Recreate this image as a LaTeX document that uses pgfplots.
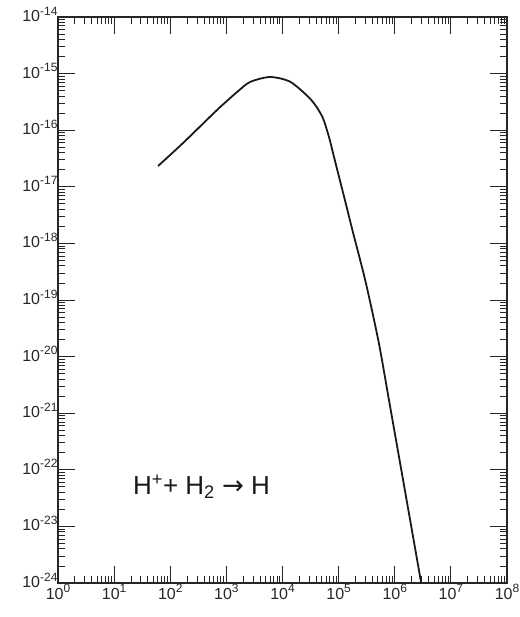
\documentclass[border=0pt]{standalone}
\usepackage{fontspec}
\setmainfont{Liberation Sans}
\newfontfamily\dejavu{DejaVu Sans}
\usepackage{pgfplots}
\pgfplotsset{compat=1.18}
\newcommand{\supexp}[1]{\raisebox{6.5bp}{\fontsize{12bp}{12bp}\selectfont #1}}
\newcommand{\loglabel}{\pgfmathtruncatemacro\myexp{round(\tick/ln(10))}\fontsize{16bp}{16bp}\selectfont 10\supexp{\myexp}}
\begin{document}
\begin{tikzpicture}
\begin{axis}[
  at={(0,0)}, anchor=south west,
  xmode=log, ymode=log,
  scale only axis, width=449bp, height=566bp,
  xmin=1, xmax=1e8, ymin=1e-24, ymax=1e-14,
  xtickten={0,...,8}, ytickten={-24,...,-14},
  xticklabel={\loglabel}, yticklabel={\loglabel},
  tick align=inside,
  major tick length=17bp, minor tick length=7bp,
  axis line style={line width=1.3bp, black!85},
  every tick/.style={black!85, line width=0.9bp},
  tick label style={text=black!85},
  xticklabel style={anchor=base, yshift=-16bp},
  yticklabel style={anchor=base east, yshift=-4.5bp, xshift=3bp},
]
\addplot[black!90, line width=1.8bp, smooth, tension=0.45] table {
x y
60.6    2.33e-17
169     5.94e-17
683     2.28e-16
1552    4.73e-16
2645    7.11e-16
6010    8.71e-16
13930   7.11e-16
32600   3.42e-16
51200   1.73e-16
67100   7.67e-17
82500   3.40e-17
133400  5.18e-18
175400  1.74e-18
302700  2.09e-19
520000  1.75e-20
788600  1.71e-21
1560000 3.7e-23
2960000 1e-24
};
\node[text=black!90] at (axis cs:360,5.1e-23) {\fontsize{26bp}{26bp}\selectfont H\textsuperscript{+}+ H\textsubscript{2} {\dejavu →} H};
\end{axis}
\pgfresetboundingbox
\useasboundingbox (-58bp,-34bp) rectangle (462bp,583bp);
\end{tikzpicture}
\end{document}
